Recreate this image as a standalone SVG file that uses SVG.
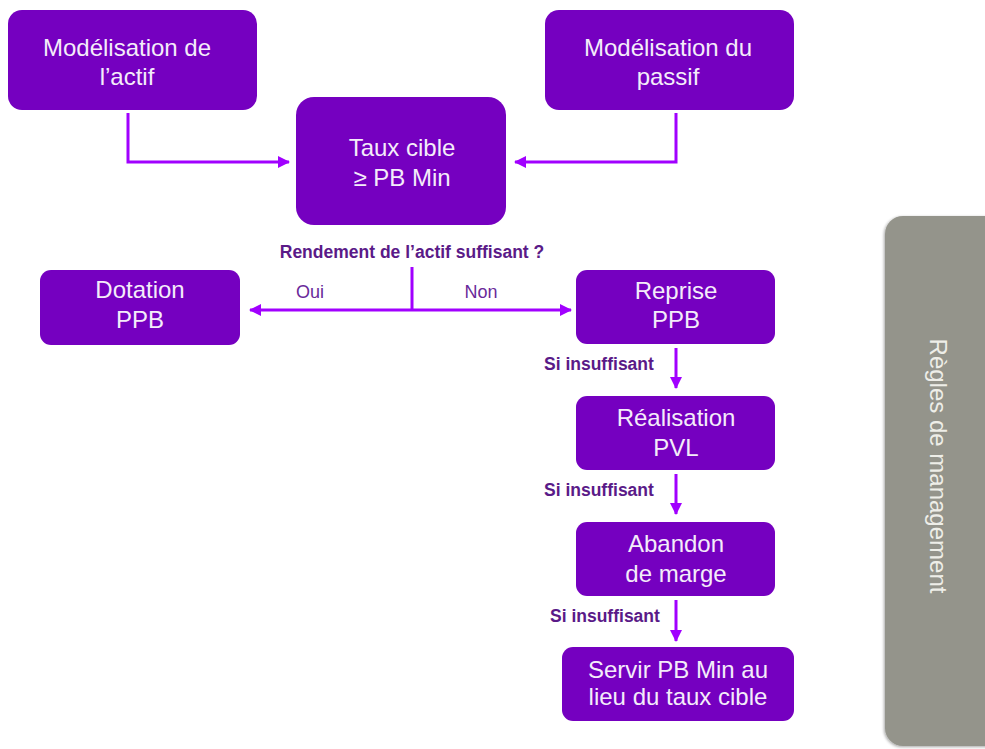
<svg xmlns="http://www.w3.org/2000/svg" width="985" height="749" viewBox="0 0 985 749">
<style>
.box{fill:#7500C0;}
.nt{font-family:"Liberation Sans",Arial,sans-serif;font-size:24px;fill:#F4ECFA;text-anchor:middle;}
.lb{font-family:"Liberation Sans",Arial,sans-serif;font-size:17.5px;font-weight:bold;fill:#5A1A88;}
.yn{font-family:"Liberation Sans",Arial,sans-serif;font-size:18px;fill:#6A2A9A;text-anchor:middle;}
.cn{fill:none;stroke:#A100FF;stroke-width:3;}
</style>
<defs>
<marker id="ah" markerUnits="userSpaceOnUse" markerWidth="12" markerHeight="12" refX="11" refY="6" orient="auto">
<path d="M0,0 L12,6 L0,12 Z" fill="#A100FF"/>
</marker>
<filter id="sh" x="-10%" y="-5%" width="130%" height="110%">
<feGaussianBlur in="SourceAlpha" stdDeviation="1.5"/>
<feOffset dx="-1" dy="1"/>
<feComponentTransfer><feFuncA type="linear" slope="0.35"/></feComponentTransfer>
<feMerge><feMergeNode/><feMergeNode in="SourceGraphic"/></feMerge>
</filter>
</defs>
<rect width="985" height="749" fill="#FFFFFF"/>

<g id="connectors">
<path class="cn" d="M128,113 V162 H289" marker-end="url(#ah)"/>
<path class="cn" d="M676,113 V162 H515" marker-end="url(#ah)"/>
<path class="cn" d="M412,267 V310"/>
<path class="cn" d="M412,310 H250" marker-end="url(#ah)"/>
<path class="cn" d="M412,310 H571" marker-end="url(#ah)"/>
<path class="cn" d="M676,348 V388" marker-end="url(#ah)"/>
<path class="cn" d="M676,474 V514" marker-end="url(#ah)"/>
<path class="cn" d="M676,600 V641" marker-end="url(#ah)"/>
<text class="lb" x="412" y="258" text-anchor="middle">Rendement de l’actif suffisant ?</text>
<text class="yn" x="310" y="298">Oui</text>
<text class="yn" x="481" y="298">Non</text>
<text class="lb" x="544" y="370">Si insuffisant</text>
<text class="lb" x="544" y="496">Si insuffisant</text>
<text class="lb" x="550" y="622">Si insuffisant</text>
</g>

<g id="n-actif">
<rect class="box" x="8" y="10" width="249" height="100" rx="14"/>
<text class="nt" x="127" y="56">Modélisation de</text>
<text class="nt" x="127" y="85">l’actif</text>
</g>

<g id="n-passif">
<rect class="box" x="545" y="10" width="249" height="100" rx="14"/>
<text class="nt" x="668" y="56">Modélisation du</text>
<text class="nt" x="668" y="85">passif</text>
</g>

<g id="n-taux">
<rect class="box" x="296" y="97" width="210" height="128" rx="18"/>
<text class="nt" x="402" y="156">Taux cible</text>
<text class="nt" x="402" y="186">≥ PB Min</text>
</g>

<g id="n-dotation">
<rect class="box" x="40" y="270" width="200" height="75" rx="11"/>
<text class="nt" x="140" y="298">Dotation</text>
<text class="nt" x="140" y="328">PPB</text>
</g>

<g id="n-reprise">
<rect class="box" x="576" y="270" width="199" height="74" rx="11"/>
<text class="nt" x="676" y="299">Reprise</text>
<text class="nt" x="676" y="328">PPB</text>
</g>

<g id="n-realisation">
<rect class="box" x="576" y="396" width="199" height="74" rx="11"/>
<text class="nt" x="676" y="426">Réalisation</text>
<text class="nt" x="676" y="456">PVL</text>
</g>

<g id="n-abandon">
<rect class="box" x="576" y="522" width="199" height="74" rx="11"/>
<text class="nt" x="676" y="552">Abandon</text>
<text class="nt" x="676" y="582">de marge</text>
</g>

<g id="n-servir">
<rect class="box" x="562" y="647" width="232" height="74" rx="11"/>
<text class="nt" x="678" y="678">Servir PB Min au</text>
<text class="nt" x="678" y="705">lieu du taux cible</text>
</g>

<g id="n-regles">
<rect x="885" y="216" width="130" height="530" rx="18" fill="#94948B" filter="url(#sh)"/>
<text transform="translate(930 466) rotate(90)" x="0" y="0" text-anchor="middle" style="font-family:'Liberation Sans',Arial,sans-serif;font-size:24px;fill:#EEEEE8;">Règles de management</text>
</g>
</svg>
